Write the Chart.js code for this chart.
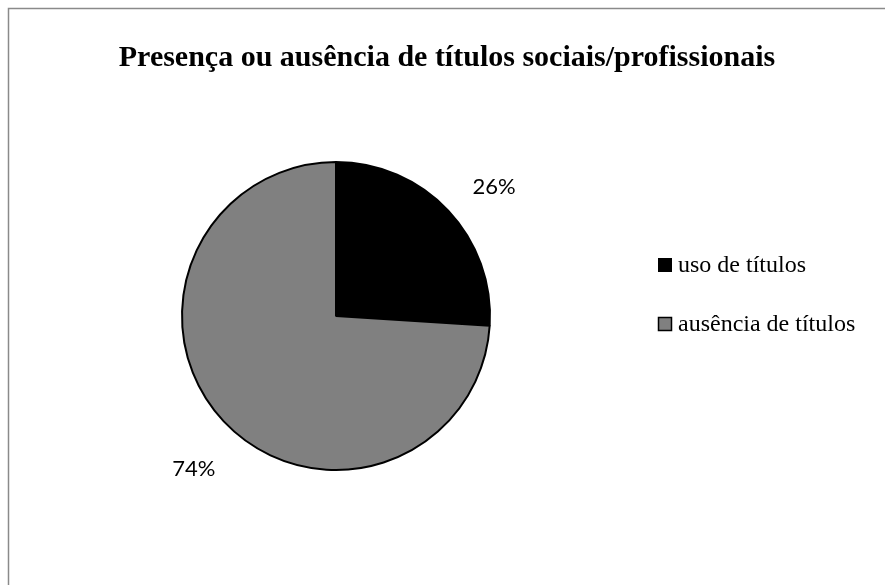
<!DOCTYPE html>
<html>
<head>
<meta charset="utf-8">
<script src="https://cdn.jsdelivr.net/npm/chart.js@4.4.1/dist/chart.umd.min.js"></script>
<style>
  html, body { margin: 0; padding: 0; background: #fff; }
  #wrap { position: relative; width: 885px; height: 585px; }
</style>
</head>
<body>
<div id="wrap"><canvas id="pieChart" width="885" height="585"></canvas></div>
<script>
const chartTitle = 'Presença ou ausência de títulos sociais/profissionais';
const categories = ['uso de títulos', 'ausência de títulos'];
const shares = [26, 74];
const sliceColors = ['#000000', '#808080'];

// frame, title, outside percent labels and the legend on the right
const decorPlugin = {
  id: 'decor',
  afterDraw(chart) {
    const ctx = chart.ctx;
    ctx.save();

    ctx.strokeStyle = '#8a8a8a';
    ctx.lineWidth = 1.5;
    ctx.beginPath();
    ctx.moveTo(8.5, 585);
    ctx.lineTo(8.5, 8.5);
    ctx.lineTo(885, 8.5);
    ctx.stroke();

    ctx.fillStyle = '#000';
    ctx.font = 'bold 30px "Liberation Serif", "Times New Roman", serif';
    ctx.textAlign = 'center';
    ctx.textBaseline = 'middle';
    ctx.fillText(chartTitle, 447, 58);

    const meta = chart.getDatasetMeta(0);
    const total = shares.reduce((a, b) => a + b, 0);
    const pctSize = 22;
    ctx.font = pctSize + 'px Lato, "Noto Sans", sans-serif';
    ctx.textBaseline = 'alphabetic';
    meta.data.forEach((arc, i) => {
      const p = arc.getProps(['x', 'y', 'startAngle', 'endAngle', 'outerRadius'], true);
      const mid = (p.startAngle + p.endAngle) / 2;
      const r = p.outerRadius + 52;
      const pct = Math.round(shares[i] / total * 100) + '%';
      const lx = p.x + Math.cos(mid) * r + 8;
      const ly = p.y + Math.sin(mid) * r + 11;
      ctx.fillText(pct, lx, ly + pctSize * 0.36);
    });

    ctx.font = '24px "Liberation Serif", "Times New Roman", serif';
    ctx.textAlign = 'left';
    ctx.textBaseline = 'middle';
    categories.forEach((name, i) => {
      const y = 265 + i * 59;
      ctx.fillStyle = sliceColors[i];
      ctx.fillRect(658, y - 7, 14, 14);
      if (i > 0) {
        ctx.strokeStyle = '#000';
        ctx.lineWidth = 1.5;
        ctx.strokeRect(658.5, y - 6.5, 13, 13);
      }
      ctx.fillStyle = '#000';
      ctx.fillText(name, 678, y + 1);
    });

    ctx.restore();
  }
};

new Chart(document.getElementById('pieChart'), {
  type: 'pie',
  data: {
    labels: categories,
    datasets: [{
      data: shares,
      backgroundColor: sliceColors,
      borderColor: '#000',
      borderWidth: 2
    }]
  },
  options: {
    responsive: false,
    animation: false,
    layout: { padding: { left: 181, right: 394, top: 161, bottom: 114 } },
    plugins: {
      legend: { display: false },
      tooltip: { enabled: false }
    }
  },
  plugins: [decorPlugin]
});
</script>
</body>
</html>
